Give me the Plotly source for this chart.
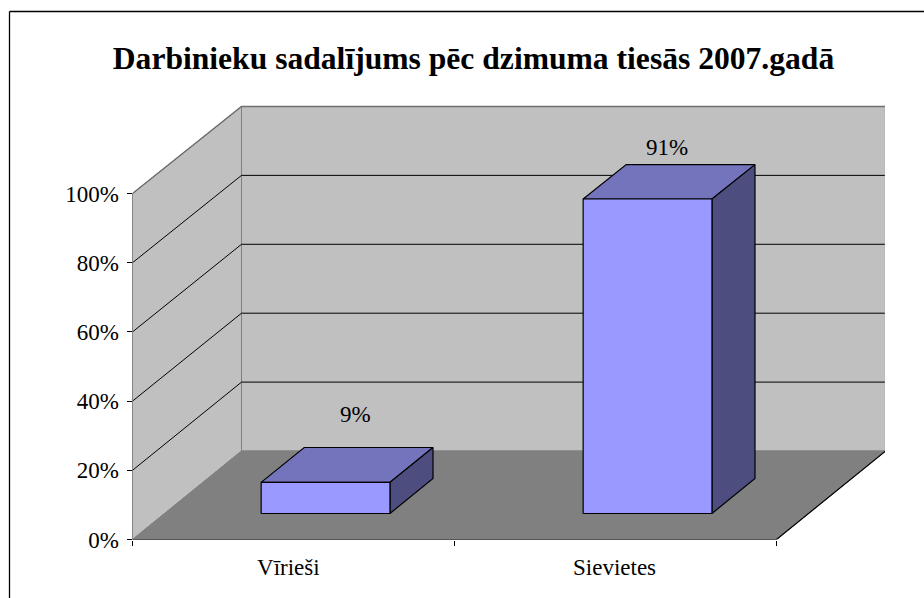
import plotly.graph_objects as go

categories = ["Vīrieši", "Sievietes"]
values = [9, 91]
value_labels = ["9%", "91%"]
y_ticks = [0, 20, 40, 60, 80, 100]
y_tick_labels = ["0%", "20%", "40%", "60%", "80%", "100%"]
title_text = "Darbinieku sadalījums pēc dzimuma tiesās 2007.gadā"

W, H = 924, 598
X0, X1 = 132.5, 885.0      # plot-area pixels
Y0, Y1 = 539.5, 100.0
CAT_PX = 322.0             # pixels per category
PCT_PX = 3.46              # pixels per percent
DEPTH_X = 109.0 / CAT_PX   # shift of the back wall, in axis units
DEPTH_Y = 88.5 / PCT_PX
BACK_SCALE = 0.9957        # the back wall is very slightly shorter than the front plane
N = len(categories)
BAR_W = 0.4
D0, D1 = 0.294, 0.689
FONT = "Liberation Serif"
EDGE = "#707070"


def pr(c, v, d=0.0):
    return c + d * DEPTH_X, v * (1 - d * (1 - BACK_SCALE)) + d * DEPTH_Y


def poly(points, fill, line="black", width=1.2):
    xy = [pr(*p) for p in points]
    xs = [p[0] for p in xy] + [xy[0][0]]
    ys = [p[1] for p in xy] + [xy[0][1]]
    return go.Scatter(x=xs, y=ys, mode="lines", fill="toself", fillcolor=fill,
                      line=dict(color=line, width=width), hoverinfo="skip", showlegend=False)


def seg(points, color="black", width=1):
    xy = [pr(*p) for p in points]
    return go.Scatter(x=[p[0] for p in xy], y=[p[1] for p in xy], mode="lines",
                      line=dict(color=color, width=width), hoverinfo="skip", showlegend=False)


fig = go.Figure()
top = y_ticks[-1]
# back wall, side wall, floor
fig.add_trace(poly([(0, 0, 1), (N, 0, 1), (N, top, 1), (0, top, 1)], "#C0C0C0", "#808080", 1))
fig.add_trace(poly([(0, 0, 0), (0, 0, 1), (0, top, 1), (0, top, 0)], "#C0C0C0", "#808080", 1))
fig.add_trace(poly([(0, 0, 0), (N, 0, 0), (N, 0, 1), (0, 0, 1)], "#808080", "#808080", 1))
# gridlines
for t in y_ticks[1:-1]:
    fig.add_trace(seg([(0, t, 0), (0, t, 1), (N, t, 1)]))
fig.add_trace(seg([(0, top, 0), (0, top, 1), (N, top, 1)], EDGE, 1.4))
fig.add_trace(seg([(N, top, 1), (N, 0, 1)], "#A0A0A0", 1.4))
# axis lines
fig.add_trace(seg([(0, 0, 0), (0, top, 0)], "#555555"))
fig.add_trace(seg([(N, 0, 1), (N, 0, 0), (0, 0, 0)], "black", 1.2))

# bars
for i, v in enumerate(values):
    a = i + 0.5 - BAR_W / 2
    b = i + 0.5 + BAR_W / 2
    fig.add_trace(poly([(a, v, D0), (b, v, D0), (b, v, D1), (a, v, D1)], "#7474BC"))
    fig.add_trace(poly([(b, 0, D0), (b, 0, D1), (b, v, D1), (b, v, D0)], "#4D4D7F"))
    fig.add_trace(poly([(a, 0, D0), (b, 0, D0), (b, v, D0), (a, v, D0)], "#9999FF"))

# data labels
lift = [(8, 50), (-2, 34)]
annotations = []
for i, v in enumerate(values):
    x, y = pr(i + 0.5, v, (D0 + D1) / 2)
    annotations.append(dict(x=x, y=y, text=value_labels[i], showarrow=False,
                            xshift=lift[i][0], yshift=lift[i][1],
                            font=dict(family=FONT, size=23, color="black")))

border = dict(color="black", width=1.3)
fig.update_layout(
    width=W, height=H, margin=dict(l=0, r=0, t=0, b=0),
    paper_bgcolor="white", plot_bgcolor="white", showlegend=False,
    font=dict(family=FONT, size=23, color="black"),
    title=dict(text="<b>" + title_text + "</b>", x=473.5 / W, xanchor="center",
               y=1 - 58 / H, yanchor="middle",
               font=dict(family=FONT, size=31.6, color="black")),
    xaxis=dict(domain=[X0 / W, X1 / W], range=[0, (X1 - X0) / CAT_PX], automargin=False,
               tickmode="array", tickvals=[0.484, 1.497], ticktext=categories,
               ticks="outside", ticklen=0, ticklabelstandoff=7,
               showgrid=False, zeroline=False, showline=False,
               minor=dict(ticks="outside", ticklen=5, tickcolor="black", tick0=0, dtick=1, showgrid=False),
               tickfont=dict(family=FONT, size=23)),
    yaxis=dict(domain=[1 - Y0 / H, 1 - Y1 / H], range=[0, (Y0 - Y1) / PCT_PX], automargin=False,
               tickmode="array", tickvals=y_ticks, ticktext=y_tick_labels,
               ticks="outside", ticklen=5, tickcolor="black", ticklabelstandoff=3,
               showgrid=False, zeroline=False, showline=False, tickfont=dict(family=FONT, size=23)),
    annotations=annotations,
    shapes=[
        dict(type="line", xref="paper", yref="paper", x0=9.5 / W, x1=9.5 / W, y0=0, y1=1 - 11.5 / H, line=border),
        dict(type="line", xref="paper", yref="paper", x0=9.5 / W, x1=1, y0=1 - 11.5 / H, y1=1 - 11.5 / H, line=border),
    ],
)

fig.write_html("out.html", config={"displayModeBar": False},
               post_script="document.body.style.margin='0';")
